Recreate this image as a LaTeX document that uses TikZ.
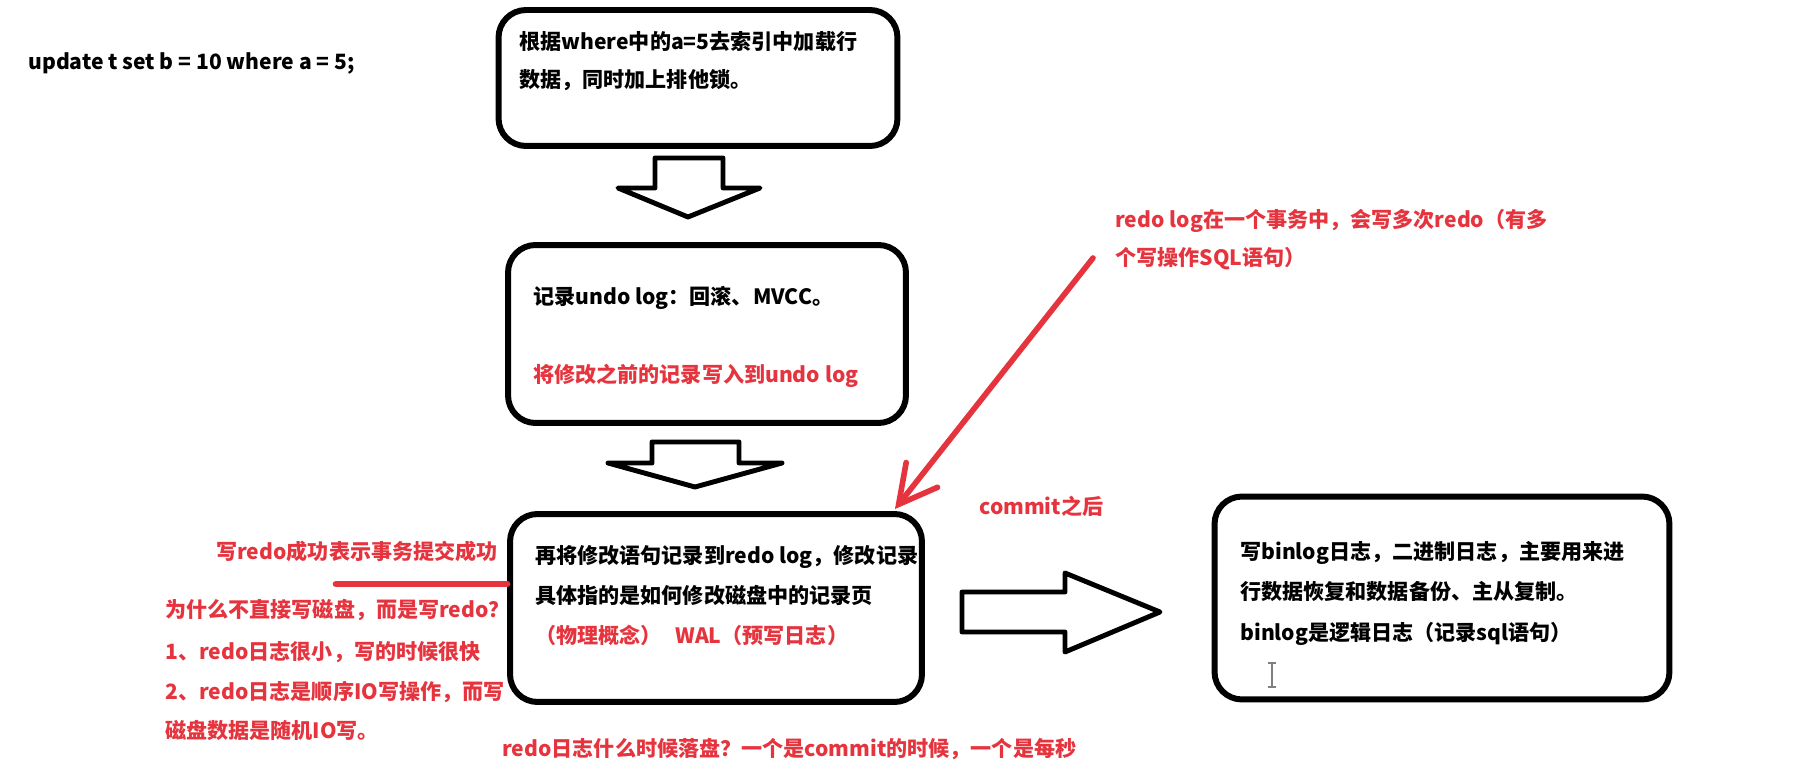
\documentclass[tikz,border=0pt]{standalone}
\usepackage{fontspec}
\setmainfont{Noto Sans CJK SC}
\usepackage{xcolor}
\usetikzlibrary{arrows.meta, calc, positioning}
\definecolor{notered}{RGB}{230,52,62}
\tikzset{
  box/.style     = {rectangle, draw, line width=3.4pt, rounded corners=0.55cm, inner sep=0pt},
  txt/.style     = {anchor=base west, inner sep=0pt, font=\fontsize{12}{14}\selectfont\bfseries},
  redtxt/.style  = {txt, text=notered},
  hollow/.style  = {draw, fill=white, line width=2.8pt, line join=round},
  redarrow/.style = {draw=notered, line width=3.2pt, line cap=round,
                     -{Straight Barb[length=0.75cm, width=0.8cm, line cap=round]}},
  redline/.style = {draw=notered, line width=3.8pt, line cap=round},
}
\begin{document}
\begin{tikzpicture}[x=0.02cm, y=-0.02cm]
    \fill[white] (0,0) rectangle (1812,776);

    %% the statement
    \node[txt] (sql) at (28, 70) {update t set b = 10 where a = 5;};

    %% Left column: load -> undo -> redo
    \node[box, minimum width=7.98cm, minimum height=2.72cm] (load) at (698, 78) {};
    \node[txt] (load1) at (519, 50) {根据where中的a=5去索引中加载行};
    \node[txt] (load2) at (519, 88) {数据，同时加上排他锁。};

    \node[box, minimum width=7.96cm, minimum height=3.56cm] (undo) at (707, 334) {};
    \node[txt]    (undo1) at (533, 305) {记录undo log：回滚、MVCC。};
    \node[redtxt] (undo2) at (533, 383) {将修改之前的记录写入到undo log};

    \node[box, minimum width=8.24cm, minimum height=3.76cm] (redo) at (716, 608) {};
    \node[txt]    (redo1) at (535, 563) {再将修改语句记录到redo log，修改记录};
    \node[txt]    (redo2) at (535, 603) {具体指的是如何修改磁盘中的记录页};
    \node[redtxt] (redo3) at (535, 643) {（物理概念）};
    \node[redtxt] (wal)   at (675, 643) {WAL（预写日志）};

    %% Right box: binlog
    \node[box, minimum width=9.1cm, minimum height=4.06cm] (bin) at (1442, 598) {};
    \node[txt] (bin1) at (1240, 560) {写binlog日志，二进制日志，主要用来进};
    \node[txt] (bin2) at (1240, 600) {行数据恢复和数据备份、主从复制。};
    \node[txt] (bin3) at (1240, 640) {binlog是逻辑日志（记录sql语句）};
    \draw[gray, line width=0.8pt] (1268,663) -- (1276,663) (1272,663) -- (1272,687) (1268,687) -- (1276,687);

    %% Hollow block arrows
    \draw[hollow] (655,158) -- (723,158) -- (723,188) -- (760,188) -- (688,217) -- (618,188) -- (655,188) -- cycle;
    \draw[hollow] (652,442) -- (739,442) -- (739,463) -- (782,463) -- (695,487) -- (608,463) -- (652,463) -- cycle;
    \draw[hollow] (962,592) -- (1065,592) -- (1065,573) -- (1160,612) -- (1065,652) -- (1065,632) -- (962,632) -- cycle;

    %% Red notes
    \node[redtxt] (multi1) at (1115, 228) {redo log在一个事务中，会写多次redo（有多};
    \node[redtxt] (multi2) at (1115, 266) {个写操作SQL语句）};
    \node[redtxt] (commit) at (979, 515) {commit之后};
    \node[redtxt] (ok)     at (216, 560) {写redo成功表示事务提交成功};
    \node[redtxt] (why)    at (165, 617) {为什么不直接写磁盘，而是写redo？};
    \node[redtxt] (why1)   at (165, 659) {1、redo日志很小，写的时候很快};
    \node[redtxt] (why2)   at (165, 699) {2、redo日志是顺序IO写操作，而写};
    \node[redtxt] (why3)   at (165, 738) {磁盘数据是随机IO写。};
    \node[redtxt] (flush)  at (502, 756) {redo日志什么时候落盘？一个是commit的时候，一个是每秒};

    %% Red connectors
    \coordinate (rstart) at (1093, 258);
    \draw[redarrow] (rstart) -- ($(redo.north east)+(-30,-2)$);
    \coordinate (wl) at (336, 584);
    \draw[redline] (wl) -- (wl -| redo.west);

\end{tikzpicture}
\end{document}
